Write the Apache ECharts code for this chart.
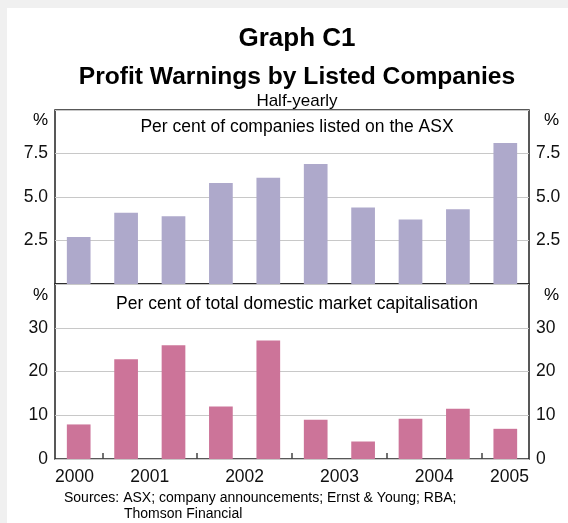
<!DOCTYPE html>
<html>
<head>
<meta charset="utf-8">
<script src="https://cdn.jsdelivr.net/npm/echarts@6/dist/echarts.min.js"></script>
<style>
    html, body { margin: 0; padding: 0; background: #f0f0f0; }
    #chart { position: absolute; left: 7px; top: 8px; width: 561px; height: 515px; background: #fff; }
</style>
</head>
<body>
<div id="chart"></div>
<script>
    // half-yearly periods, Dec 2000 to Jun 2005
    var halfYears = ['2000 H2', '2001 H1', '2001 H2', '2002 H1', '2002 H2',
                     '2003 H1', '2003 H2', '2004 H1', '2004 H2', '2005 H1'];
    var years = ['2000', '2001', '2002', '2003', '2004', '2005'];
    // per cent of companies listed on the ASX
    var pctCompanies = [2.7, 4.1, 3.9, 5.8, 6.1, 6.9, 4.4, 3.7, 4.3, 8.1];
    // per cent of total domestic market capitalisation
    var pctMarketCap = [7.9, 22.8, 26.0, 12.0, 27.1, 9.0, 4.0, 9.2, 11.5, 6.9];
    var topTicks = [0, 2.5, 5, 7.5, 10];
    var bottomTicks = [0, 10, 20, 30, 40];

    // year label positions (centre of each year's span) and year boundary ticks
    var n = halfYears.length;
    var yearPos = years.map(function (y) {
        var i = halfYears.findIndex(function (h) { return h.indexOf(y) === 0; });
        var start = halfYears[i].slice(-2) === 'H2' ? i - 1 : i;
        return Math.max(0, Math.min(n, start + 1));
    });
    var yearTicks = [];
    halfYears.forEach(function (h, i) { if (h.slice(-2) === 'H1') yearTicks.push(i); });

    var font = 'Liberation Sans, Arial, sans-serif';
    var dark = '#222';

    function yAx(grid, pos, ticks, fmt) {
        return {
            type: 'value', gridIndex: grid, position: pos,
            min: ticks[0], max: ticks[ticks.length - 1], interval: ticks[1] - ticks[0],
            axisLine: {show: false}, axisTick: {show: false},
            axisLabel: {
                fontFamily: font, fontSize: 17.5, color: '#111', margin: 7,
                formatter: fmt
            },
            splitLine: {show: pos === 'left', lineStyle: {color: '#c8c8c8', width: 1}}
        };
    }
    var fmtTop = function (v) { return (v === 0 || v === 10) ? '' : v.toFixed(1); };
    var fmtBottom = function (v) { return v === 40 ? '' : String(v); };

    function txt(s, x, y, size, weight, align) {
        return {
            text: s, left: x, top: y, textAlign: align || 'center',
            textStyle: {fontFamily: font, fontSize: size, fontWeight: weight || 'normal', color: '#000'}
        };
    }

    var myChart = echarts.init(document.getElementById('chart'));
    myChart.setOption({
        animation: false,
        title: [
            txt('Graph C1', 285, 13, 26, 'bold'),
            txt('Profit Warnings by Listed Companies', 285, 52, 24.6, 'bold'),
            txt('Half-yearly', 285, 80, 17),
            txt('Per cent of companies listed on the ASX', 285, 105, 17.5),
            txt('Per cent of total domestic market capitalisation', 285, 282, 17.5),
            txt('%', 28.5, 99, 17), txt('%', 539.5, 99, 17),
            txt('%', 28.5, 274, 17), txt('%', 539.5, 274, 17),
            txt('Sources: ASX; company announcements; Ernst & Young; RBA;', 52, 478, 14, 'normal', 'left'),
            txt('Thomson Financial', 112, 494, 14, 'normal', 'left')
        ],
        grid: [
            {left: 48, right: 39, top: 102, height: 174, show: true, borderColor: dark, borderWidth: 1.5},
            {left: 48, right: 39, top: 276, height: 175, show: true, borderColor: dark, borderWidth: 1.5}
        ],
        xAxis: [
            {type: 'category', gridIndex: 0, data: halfYears, axisLine: {show: false},
             axisTick: {show: false}, axisLabel: {show: false}},
            {type: 'category', gridIndex: 1, data: halfYears, position: 'bottom', axisLine: {show: false},
             axisTick: {show: false}, axisLabel: {show: false}},
            {type: 'value', gridIndex: 1, position: 'bottom', min: 0, max: n, axisLine: {show: false},
             splitLine: {show: false},
             axisTick: {show: true, inside: true, length: 6, customValues: yearTicks,
                        lineStyle: {color: '#444', width: 1.5}},
             axisLabel: {
                 fontFamily: font, fontSize: 17.5, color: '#111', margin: 9,
                 customValues: yearPos, alignMinLabel: 'left', alignMaxLabel: 'right',
                 formatter: function (v) { return years[yearPos.indexOf(v)]; }
             }}
        ],
        yAxis: [
            yAx(0, 'left', topTicks, fmtTop), yAx(0, 'right', topTicks, fmtTop),
            yAx(1, 'left', bottomTicks, fmtBottom), yAx(1, 'right', bottomTicks, fmtBottom)
        ],
        series: [
            {name: 'Per cent of companies', type: 'bar', xAxisIndex: 0, yAxisIndex: 0,
             data: pctCompanies, barWidth: '50%', itemStyle: {color: '#aea9cb'}},
            {name: 'Per cent of market capitalisation', type: 'bar', xAxisIndex: 1, yAxisIndex: 2,
             data: pctMarketCap, barWidth: '50%', itemStyle: {color: '#cc7499'}}
        ]
    });
</script>
</body>
</html>
